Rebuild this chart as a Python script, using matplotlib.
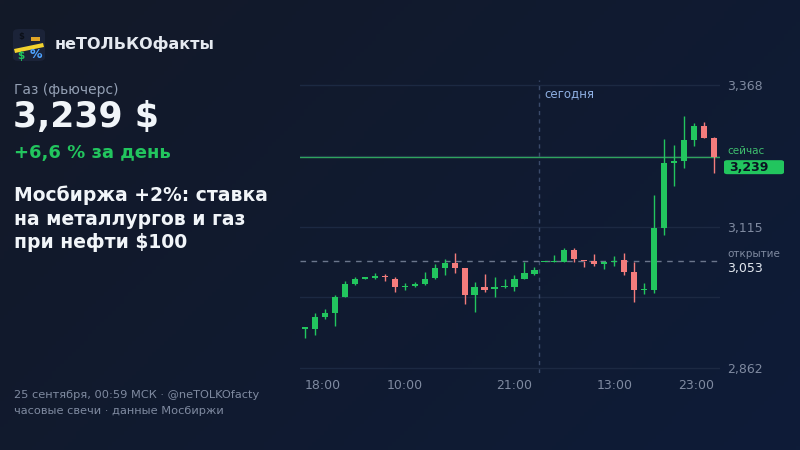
import matplotlib
matplotlib.use("Agg")
import matplotlib.pyplot as plt
import matplotlib.transforms as mtransforms
from matplotlib.patches import FancyBboxPatch, Rectangle, Polygon
import numpy as np

plt.rcParams['font.family'] = ['DejaVu Sans']

# hourly candles, gas futures (Moscow exchange)
opens = [2.932, 2.932, 2.953, 2.960, 2.989, 3.012, 3.022, 3.023, 3.025, 3.021,
         3.006, 3.009, 3.012, 3.023, 3.041, 3.050, 3.041, 2.993, 3.007, 3.003,
         3.006, 3.007, 3.021, 3.030, 3.051, 3.051, 3.052, 3.073, 3.054, 3.054,
         3.048, 3.051, 3.055, 3.034, 3.001, 3.002, 3.112, 3.229, 3.232, 3.270,
         3.295, 3.273]
highs = [2.936, 2.960, 2.968, 2.992, 3.018, 3.025, 3.023, 3.032, 3.030, 3.025,
         3.014, 3.016, 3.034, 3.048, 3.057, 3.068, 3.041, 3.016, 3.030, 3.025,
         3.021, 3.028, 3.051, 3.043, 3.052, 3.064, 3.077, 3.077, 3.054, 3.066,
         3.054, 3.062, 3.068, 3.052, 3.014, 3.171, 3.271, 3.261, 3.313, 3.300,
         3.302, 3.275]
lows = [2.916, 2.921, 2.950, 2.937, 2.989, 3.010, 3.022, 3.021, 3.018, 2.998,
        3.002, 3.007, 3.010, 3.021, 3.028, 3.032, 2.976, 2.962, 2.998, 2.989,
        3.005, 3.000, 3.021, 3.028, 3.051, 3.051, 3.052, 3.052, 3.043, 3.044,
        3.039, 3.044, 3.028, 2.980, 2.994, 2.996, 3.100, 3.187, 3.220, 3.259,
        3.273, 3.211]
closes = [2.934, 2.953, 2.960, 2.989, 3.012, 3.021, 3.023, 3.024, 3.024, 3.007,
          3.007, 3.012, 3.021, 3.041, 3.050, 3.041, 2.993, 3.007, 3.002, 3.007,
          3.007, 3.021, 3.032, 3.037, 3.052, 3.052, 3.073, 3.057, 3.053, 3.048,
          3.052, 3.052, 3.034, 3.002, 3.002, 3.112, 3.229, 3.232, 3.270, 3.295,
          3.273, 3.239]

tick_idx = [0, 10, 21, 31, 41]
tick_labels = ['18:00', '10:00', '21:00', '13:00', '23:00']
today_start = 24          # first candle of today
open_price = 3.053
last_price = 3.239
y_ticks = [2.862, 3.115, 3.368]
grid_levels = [2.862, 2.9885, 3.115, 3.2415, 3.368]

GREEN = '#22c55e'
RED = '#f47c7c'
GRAY = '#7f8aa0'


def fx(x):
    return x / 800.0


def fy(y):
    return 1 - y / 450.0


def fmt(v):
    return ('%.3f' % v).replace('.', ',')


fig = plt.figure(figsize=(8, 4.5), dpi=100)

# background gradient
bg = fig.add_axes([0, 0, 1, 1], zorder=-10)
gx = np.linspace(0, 1, 200)
gy = np.linspace(0, 1, 120)
GX, GY = np.meshgrid(gx, gy)
t = np.clip(0.65 * GX + 0.35 * GY, 0, 1)
c0 = np.array([0x13, 0x19, 0x28]) / 255.0
c1 = np.array([0x0e, 0x1c, 0x38]) / 255.0
img = c0[None, None, :] * (1 - t[..., None]) + c1[None, None, :] * t[..., None]
bg.imshow(img, aspect='auto', extent=[0, 1, 0, 1], origin='upper')
bg.set_axis_off()

# chart
ax = fig.add_axes([0.375, 0.1711, 0.525, 0.6511])
ax.set_facecolor('none')
ax.set_xlim(-0.5, 41.6)
ax.set_ylim(2.853, 3.377)
for s in ax.spines.values():
    s.set_visible(False)

for g in grid_levels:
    ax.axhline(g, color='#1c2942', lw=1, zorder=1)

ax.axvline(today_start - 0.5, color='#3a4a6a', lw=1, ls=(0, (3, 3)), zorder=1)
ax.text(today_start - 0.5 + 0.5, 3.352, 'сегодня', color='#8fb0e3', fontsize=8.5,
        ha='left', va='center')

ax.axhline(open_price, color='#6b768c', lw=1, ls=(0, (4, 4)), zorder=2)
ax.axhline(last_price, color='#2fa35e', lw=1, zorder=2)

x = np.arange(len(opens))
o = np.array(opens)
c = np.array(closes)
colors = [GREEN if cc >= oo else RED for oo, cc in zip(o, c)]
ax.vlines(x, lows, highs, colors=colors, lw=1, zorder=3)
body = np.maximum(np.abs(c - o), 0.0028)
ax.bar(x, body, bottom=np.minimum(o, c), width=0.62, color=colors, zorder=4)

ax.set_xticks(tick_idx)
ax.set_xticklabels(tick_labels)
ax.tick_params(axis='x', length=0, pad=4, colors=GRAY, labelsize=9)
labels = ax.get_xticklabels()
labels[0].set_ha('left')
labels[-1].set_ha('right')

ax.yaxis.tick_right()
ax.set_yticks(y_ticks)
ax.set_yticklabels([fmt(v) for v in y_ticks])
ax.tick_params(axis='y', length=0, pad=5, colors=GRAY, labelsize=9)

# right side labels
blend = mtransforms.blended_transform_factory(ax.transAxes, ax.transData)
ax.annotate('сейчас', xy=(1, last_price), xycoords=blend, xytext=(7, 6),
            textcoords='offset pixels', color='#3fbf6f', fontsize=7.5,
            ha='left', va='center', annotation_clip=False)
fig.canvas.draw()
yd = ax.transData.transform((0, last_price))[1]
xd = ax.transAxes.transform((1, 0))[0]
box = FancyBboxPatch(((xd + 4) / 800, (yd - 17) / 450), 60 / 800, 14 / 450,
                     boxstyle='round,pad=0,rounding_size=0.004',
                     transform=fig.transFigure, facecolor=GREEN, edgecolor='none',
                     zorder=5)
fig.patches.append(box)
fig.text((xd + 9) / 800, (yd - 10) / 450, fmt(last_price), color='#0b1322',
         fontsize=9, fontweight='bold', ha='left', va='center', zorder=7)
ax.annotate('открытие', xy=(1, open_price), xycoords=blend, xytext=(7, 7),
            textcoords='offset pixels', color=GRAY, fontsize=7.5,
            ha='left', va='center', annotation_clip=False)
ax.annotate(fmt(open_price), xy=(1, open_price),
            xycoords=blend, xytext=(7, -7), textcoords='offset pixels',
            color='#e2e8f0', fontsize=9, ha='left', va='center',
            annotation_clip=False)

# logo
logo = FancyBboxPatch((fx(13), fy(61)), 32 / 800, 32 / 450,
                      boxstyle='round,pad=0,rounding_size=0.008',
                      transform=fig.transFigure, facecolor='#1b2338',
                      edgecolor='none')
fig.patches.append(logo)
fig.patches.append(Polygon([(fx(14), fy(49)), (fx(43), fy(43)),
                            (fx(44), fy(47)), (fx(15), fy(53))], closed=True,
                           transform=fig.transFigure, facecolor='#f2d22e',
                           edgecolor='none'))
fig.patches.append(Rectangle((fx(31), fy(41)), 9 / 800, 4 / 450,
                             transform=fig.transFigure, facecolor='#e0a526',
                             edgecolor='none'))
fig.text(fx(21), fy(36), '$', color='#0b0f18', fontsize=6, fontweight='bold',
         ha='center', va='center')
fig.text(fx(21), fy(56), '$', color=GREEN, fontsize=7.5, fontweight='bold',
         ha='center', va='center')
fig.text(fx(36), fy(55), '%', color='#4ea3ff', fontsize=9, fontweight='bold',
         ha='center', va='center')

fig.text(fx(55), fy(44), 'неТОЛЬКОфакты', color='#e5e9f0', fontsize=11.5,
         fontweight='bold', ha='left', va='center')

# left texts
fig.text(fx(14), fy(90), 'Газ (фьючерс)', color='#94a0b4', fontsize=10,
         ha='left', va='center')
fig.text(fx(13), fy(117), '3,239 $', color='#f1f5f9', fontsize=25,
         fontweight='bold', ha='left', va='center')
fig.text(fx(14), fy(153), '+6,6 % за день', color=GREEN, fontsize=13,
         fontweight='bold', ha='left', va='center')
fig.text(fx(14), fy(219), 'Мосбиржа +2%: ставка\nна металлургов и газ\nпри нефти $100',
         color='#f1f5f9', fontsize=13.5, fontweight='bold', ha='left',
         va='center', linespacing=1.3)

fig.text(fx(14), fy(395), '25 сентября, 00:59 МСК · @neTOLKOfacty', color=GRAY,
         fontsize=8.2, ha='left', va='center')
fig.text(fx(14), fy(411), 'часовые свечи · данные Мосбиржи', color=GRAY,
         fontsize=8.2, ha='left', va='center')

fig.savefig('out.png', dpi=100, facecolor='#121a2b')
